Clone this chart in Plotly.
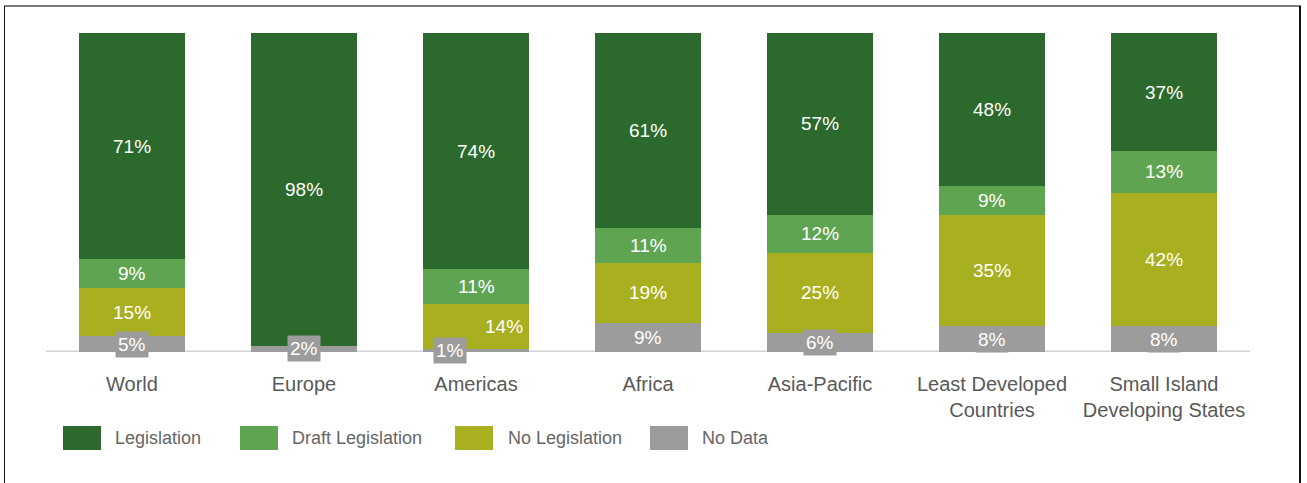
import plotly.graph_objects as go

# Share of countries by legislation status, per region (percent)
categories = ["World", "Europe", "Americas", "Africa", "Asia-Pacific",
              "Least Developed<br>Countries", "Small Island<br>Developing States"]
series_names = ["Legislation", "Draft Legislation", "No Legislation", "No Data"]
legislation = [71, 98, 74, 61, 57, 48, 37]
draft_legislation = [9, 0, 11, 11, 12, 9, 13]
no_legislation = [15, 0, 14, 19, 25, 35, 42]
no_data = [5, 2, 1, 9, 6, 8, 8]

colors = ["#2b6a2c", "#5fa551", "#a9b020", "#9c9c9c"]
series_values = [legislation, draft_legislation, no_legislation, no_data]

# Figure geometry (pixels)
W, H = 1307, 483
ML, MR, MT, MB = 46, 57, 33, 131
PW, PH = W - ML - MR, H - MT - MB

def px_x(px):
    return (px - ML) / PW

def px_y(py):
    return (H - MB - py) / PH

FONT = "Liberation Sans, Arial, sans-serif"

fig = go.Figure()

# Stacked from the bottom: No Data, No Legislation, Draft, Legislation
stack_order = [3, 2, 1, 0]
for i in stack_order:
    fig.add_trace(go.Bar(
        x=list(range(len(categories))),
        y=series_values[i],
        name=series_names[i],
        marker=dict(color=colors[i], line=dict(width=0)),
        width=0.622,
        hoverinfo="skip",
        showlegend=False,
    ))

# Segment labels, centred on each segment
label_shift = {(2, 3): -26, (2, 2): 28}
font_lbl = dict(family=FONT, size=19, color="white")
for c in range(len(categories)):
    base = 0
    for i in stack_order:
        v = series_values[i][c]
        if v > 0:
            ann = dict(
                x=c, y=base + v / 2, xref="x", yref="y",
                text=f"{v}%", showarrow=False, font=font_lbl,
                xshift=label_shift.get((c, i), 0),
            )
            if i == 3:
                ann.update(bgcolor=colors[3], borderpad=2)
            fig.add_annotation(**ann)
        base += v

# Legend drawn as swatches + labels
legend_sw_x = [63, 240, 455, 650]
legend_txt_x = [113, 290, 506, 700]
sw_w, sw_top, sw_bot = 38, 426, 450
for i, name in enumerate(series_names):
    fig.add_shape(type="rect", xref="paper", yref="paper",
                  x0=px_x(legend_sw_x[i]), x1=px_x(legend_sw_x[i] + sw_w),
                  y0=px_y(sw_bot), y1=px_y(sw_top),
                  fillcolor=colors[i], line=dict(width=0))
    fig.add_annotation(x=px_x(legend_txt_x[i]), y=px_y(438), xref="paper", yref="paper",
                       text=name, showarrow=False, xanchor="left", yanchor="middle",
                       font=dict(family=FONT, size=18, color="#666666"))

# Baseline
fig.add_shape(type="line", xref="paper", yref="y", x0=0, x1=1, y0=0, y1=0,
              line=dict(color="#d2d2d2", width=3), layer="below")

# Frame around the chart
fig.add_shape(type="line", xref="paper", yref="paper",
              x0=px_x(4), x1=px_x(1301), y0=px_y(6), y1=px_y(6),
              line=dict(color="#7a7a7a", width=2))
fig.add_shape(type="line", xref="paper", yref="paper",
              x0=px_x(4.5), x1=px_x(4.5), y0=px_y(6), y1=px_y(490),
              line=dict(color="#111111", width=1))
fig.add_shape(type="line", xref="paper", yref="paper",
              x0=px_x(1300), x1=px_x(1300), y0=px_y(6), y1=px_y(490),
              line=dict(color="#111111", width=2))

fig.update_layout(
    width=W, height=H,
    margin=dict(l=ML, r=MR, t=MT, b=MB),
    barmode="stack",
    bargap=0,
    plot_bgcolor="white",
    paper_bgcolor="white",
    showlegend=False,
    xaxis=dict(
        tickmode="array",
        tickvals=list(range(len(categories))),
        ticktext=categories,
        range=[-0.5, len(categories) - 0.5],
        showgrid=False, zeroline=False, showline=False,
        ticks="", ticklabelstandoff=18,
        tickfont=dict(family=FONT, size=20, color="#595959"),
    ),
    yaxis=dict(range=[0, 100], visible=False, showgrid=False, zeroline=False),
)

fig.write_html("out.html")
